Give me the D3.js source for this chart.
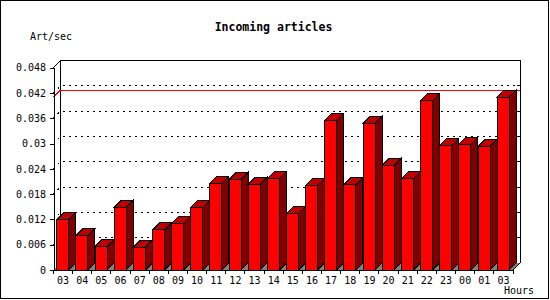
<!DOCTYPE html>
<html>
<head>
<meta charset="utf-8">
<script src="https://cdn.jsdelivr.net/npm/d3@7"></script>
<style>
  body { margin: 0; background: #fff; }
  text { font-family: "DejaVu Sans Mono", monospace; }
  svg path, svg line, svg rect { shape-rendering: crispEdges; }
</style>
</head>
<body>
<div id="chart"></div>
<script>
// hours on the x axis (the last one really reads "03")
let hours = ["03", "04", "05", "06", "07", "08", "09", "10", "11", "12", "13", "14",
             "15", "16", "17", "18", "19", "20", "21", "22", "23", "00", "01", "03"];

// articles per second for each hour
let artPerSec = [0.0119, 0.0082, 0.0056, 0.0149, 0.0054, 0.0095, 0.0111, 0.0149,
                 0.0206, 0.0215, 0.0203, 0.0217, 0.0134, 0.0201, 0.0355, 0.0203,
                 0.0348, 0.0248, 0.0217, 0.0402, 0.0296, 0.0298, 0.0293, 0.0410];

let yTicks = [0, 0.006, 0.012, 0.018, 0.024, 0.03, 0.036, 0.042, 0.048];

function drawChart() {
    let width = 550;
    let height = 300;
    let left = 53.5;
    let right = 513;
    let base = 270;
    let depth = 7;   // 3d offset of the back wall

    let svg = d3.select("#chart")
        .append("svg")
        .attr("width", width)
        .attr("height", height);

    // outer frame
    svg.append("rect")
        .attr("x", 0.5).attr("y", 0.5)
        .attr("width", 548).attr("height", 298)
        .style("fill", "white")
        .style("stroke", "black")
        .style("stroke-width", 1.5);

    let xScale = d3.scaleBand()
        .domain(d3.range(hours.length))
        .range([left, right]);

    let yScale = d3.scaleLinear()
        .domain([0, 0.048])
        .range([base, 67.6]);

    // back wall + floor
    let backTop = yScale(0.048) - depth;
    svg.append("path")
        .attr("d", "M" + (left + depth) + "," + (base - depth) + " L" + (left + depth) + "," + backTop +
                   " L" + (right + depth) + "," + backTop + " L" + (right + depth) + "," + (base - depth))
        .style("fill", "none")
        .style("stroke", "black");

    svg.append("path")
        .attr("d", "M" + left + "," + base + " L" + right + "," + base + " L" + (right + depth) + "," + (base - depth) +
                   " L" + (left + depth) + "," + (base - depth) + " Z")
        .style("fill", "#808080")
        .style("stroke", "none");

    svg.append("line")
        .attr("x1", left).attr("y1", yScale(0.048))
        .attr("x2", left + depth).attr("y2", backTop)
        .style("stroke", "black");

    svg.append("line")
        .attr("x1", right).attr("y1", base)
        .attr("x2", right + depth).attr("y2", base - depth)
        .style("stroke", "black");

    // GRID (dotted, on the back wall)
    svg.selectAll(".grid")
        .data(yTicks.filter(function(d) { return d > 0 && d < 0.048; }))
        .enter().append("path")
        .attr("class", "grid")
        .attr("d", function(d) {
            let y = yScale(d);
            return "M" + left + "," + y + " L" + (left + depth) + "," + (y - depth) + " L" + (right + depth) + "," + (y - depth);
        })
        .style("fill", "none")
        .style("stroke", "black")
        .style("stroke-dasharray", "2,4");

    // little ticks on the right wall
    svg.selectAll(".rtick")
        .data(yTicks.filter(function(d) { return d > 0 && d < 0.048; }))
        .enter().append("line")
        .attr("x1", right + depth - 3).attr("x2", right + depth)
        .attr("y1", function(d) { return yScale(d) - depth; })
        .attr("y2", function(d) { return yScale(d) - depth; })
        .style("stroke", "black");

    // max line in red
    let maxVal = d3.max(artPerSec);
    svg.append("path")
        .attr("d", "M" + left + "," + yScale(maxVal) + " L" + (left + depth) + "," + (yScale(maxVal) - depth) +
                   " L" + (right + depth) + "," + (yScale(maxVal) - depth))
        .style("fill", "none")
        .style("stroke", "#ff0000");

    // BARS (front, top, side)
    let bars = svg.selectAll(".bar")
        .data(artPerSec)
        .enter().append("g")
        .attr("class", "bar");

    bars.append("path")
        .attr("d", function(d, i) {
            let x0 = xScale(i) + 3.3, x1 = x0 + 12, y = yScale(d);
            return "M" + x1 + "," + y + " L" + (x1 + depth) + "," + (y - depth) + " L" + (x1 + depth) + "," + (base - depth) +
                   " L" + x1 + "," + base + " Z";
        })
        .style("fill", "#800000")
        .style("stroke", "black");

    bars.append("path")
        .attr("d", function(d, i) {
            let x0 = xScale(i) + 3.3, x1 = x0 + 12, y = yScale(d);
            return "M" + x0 + "," + y + " L" + (x0 + depth) + "," + (y - depth) + " L" + (x1 + depth) + "," + (y - depth) +
                   " L" + x1 + "," + y + " Z";
        })
        .style("fill", "#c00000")
        .style("stroke", "black");

    bars.append("rect")
        .attr("x", function(d, i) { return xScale(i) + 3.3; })
        .attr("y", function(d) { return yScale(d); })
        .attr("width", 12)
        .attr("height", function(d) { return base - yScale(d); })
        .style("fill", "#ff0000")
        .style("stroke", "black");

    // Y AXIS
    svg.append("g")
        .attr("transform", "translate(" + left + ",0)")
        .call(d3.axisLeft(yScale).tickValues(yTicks).tickSize(4).tickSizeOuter(0).tickPadding(3.5)
              .tickFormat(function(d) { return String(d); }))
        .call(function(g) { g.selectAll("text").style("font-size", "10px").style("font-family", "DejaVu Sans Mono"); });

    // X AXIS (labels centred, ticks between bars)
    svg.append("g")
        .attr("transform", "translate(0," + base + ")")
        .call(d3.axisBottom(xScale).tickSize(0).tickSizeOuter(0).tickPadding(7)
              .tickFormat(function(i) { return hours[i]; }))
        .call(function(g) { g.selectAll("text").style("font-size", "10px").style("font-family", "DejaVu Sans Mono"); });

    svg.selectAll(".xtick")
        .data(d3.range(hours.length + 1))
        .enter().append("line")
        .attr("x1", function(i) { return i < hours.length ? xScale(i) : right; })
        .attr("x2", function(i) { return i < hours.length ? xScale(i) : right; })
        .attr("y1", base).attr("y2", base + 4)
        .style("stroke", "black");

    // TITLE
    svg.append("text")
        .attr("x", 273.5)
        .attr("y", 30.7)
        .attr("text-anchor", "middle")
        .style("font-size", "11.5px")
        .style("font-weight", "bold")
        .text("Incoming articles");

    // AXIS LABELS
    svg.append("text")
        .attr("x", 30)
        .attr("y", 40)
        .style("font-size", "10px")
        .text("Art/sec");

    svg.append("text")
        .attr("x", 534)
        .attr("y", 294)
        .attr("text-anchor", "end")
        .style("font-size", "10px")
        .text("Hours");
}

window.onload = () => {
    drawChart();
}
</script>
</body>
</html>
